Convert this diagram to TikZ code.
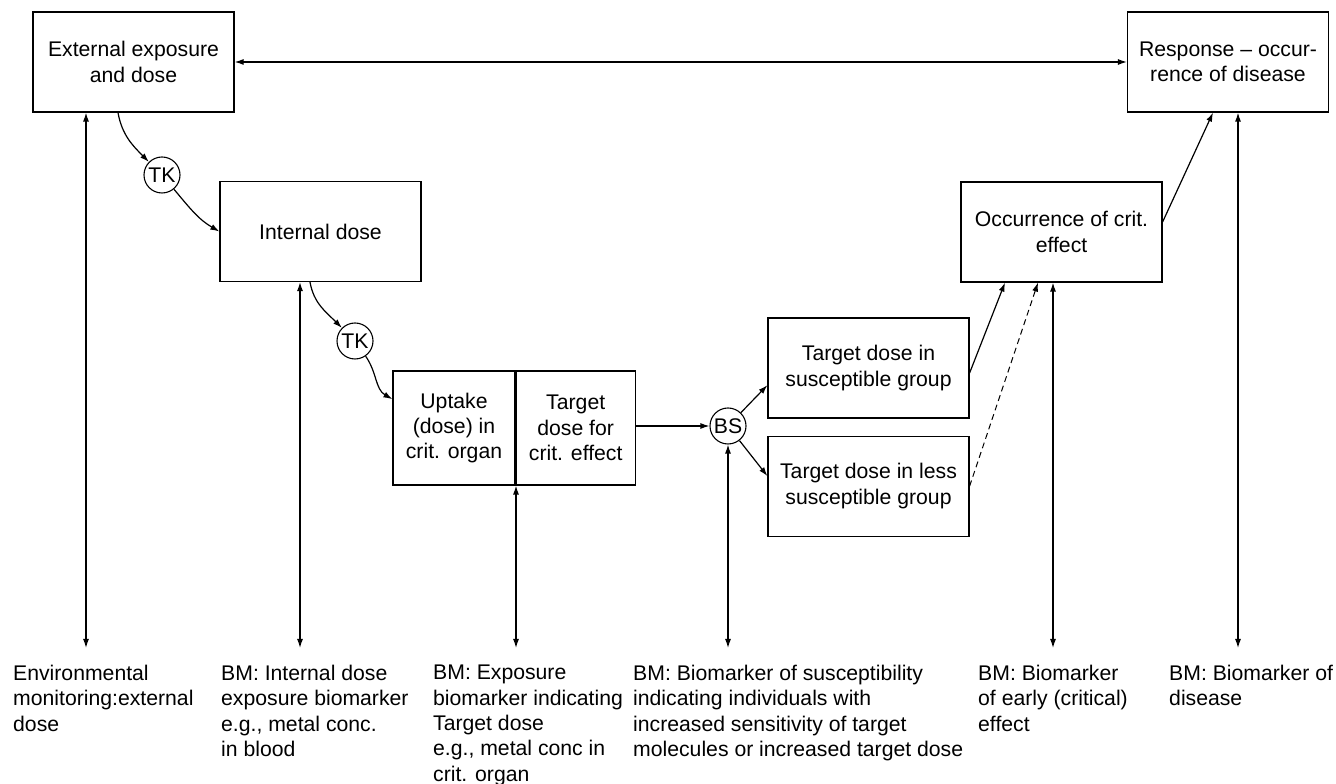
\documentclass[tikz,border=0pt]{standalone}
\usepackage{fontspec}
\setmainfont{Liberation Sans}
\usetikzlibrary{arrows.meta,positioning,calc}

\tikzset{
  box/.style={draw, line width=1.2pt, minimum width=201pt, minimum height=100pt, align=center, inner sep=2pt},
  half/.style={draw, line width=1.2pt, minimum height=114pt, align=center, inner sep=0pt},
  stage/.style={draw, circle, line width=1.1pt, minimum size=36pt, inner sep=0pt},
  link/.style={line width=1.2pt, -{Latex[length=9pt,width=6pt]}},
  both/.style={line width=1.2pt, {Latex[length=9pt,width=6pt]}-{Latex[length=9pt,width=6pt]}},
  note/.style={anchor=north west, align=left, inner sep=0pt},
}

\begin{document}
\begin{tikzpicture}[x=1pt, y=1pt, font=\fontsize{21.2}{25.4}\selectfont]
        \useasboundingbox (0,0) rectangle (1336,784);

        % Exposure side
        \node[box] (ext) at (133.5,722) {External exposure\\and dose};
        \node[stage] (tk1) at (162,609) {TK};
        \node[box] (int) at (320.5,552.5) {Internal dose};
        \node[stage] (tk2) at (355,443) {TK};
        \node[half, minimum width=122pt] (upt) at (454,356) {Uptake\\(dose) in\\crit. organ};
        \node[half, minimum width=119pt, right=0pt of upt] (tgt) {Target\\dose for\\crit. effect};

        % Susceptibility split
        \node[stage] (bs) at (728,358) {BS};
        \node[box] (sus) at (868.5,416) {Target dose in\\susceptible group};
        \node[box, below=17pt of sus] (less) {Target dose in less\\susceptible group};

        % Effect side
        \node[box] (occ) at (1061.5,552) {Occurrence of crit.\\effect};
        \node[box] (resp) at (1228,722) {Response -- occur-\\rence of disease};

        % Main chain
        \draw[both] (ext.east) -- (resp.west);
        \draw[link] ([xshift=-15.5pt]ext.south) to[out=-80, in=135] (tk1);
        \draw[link] (tk1) to[out=-50, in=150] (int.west);
        \draw[link] ([xshift=-10.5pt]int.south) to[out=-80, in=135] (tk2);
        \draw[link] (tk2) to[out=-55, in=150] ($(upt.north west)!0.25!(upt.south west)$);
        \draw[link] (tgt.east |- bs) -- (bs);
        \draw[link] (bs) -- ($(sus.south west)!0.33!(sus.north west)$);
        \draw[link] (bs) -- ($(less.north west)!0.4!(less.south west)$);
        \draw[link] ([yshift=-5pt]sus.east) -- ([xshift=-56.5pt]occ.south);
        \draw[link, dash pattern=on 6pt off 4pt, line width=1pt] (less.east) -- ([xshift=-23.5pt]occ.south);
        \draw[link] ([yshift=10pt]occ.east) -- ([xshift=-15pt]resp.south);

        % Biomarker ends
        \coordinate (m1) at (86,136);
        \coordinate (m2) at (300,136);
        \coordinate (m3) at (516,136);
        \coordinate (m4) at (728,136);
        \coordinate (m5) at (1053,136);
        \coordinate (m6) at (1238,136);

        \draw[both] (ext.south -| m1) -- (m1);
        \draw[both] (int.south -| m2) -- (m2);
        \draw[both] (upt.south -| m3) -- (m3);
        \draw[both] (bs) -- (m4);
        \draw[both] (occ.south -| m5) -- (m5);
        \draw[both] (resp.south -| m6) -- (m6);

        % Biomarker texts
        \node[note] (t1) at (13,119) {Environmental\\monitoring:external\\dose};
        \node[note] (t2) at (221,119) {BM: Internal dose\\exposure biomarker\\e.g., metal conc.\\in blood};
        \node[note] (t3) at (433,119) {BM: Exposure\\biomarker indicating\\Target dose\\e.g., metal conc in\\crit. organ};
        \node[note] (t4) at (633,119) {BM: Biomarker of susceptibility\\indicating individuals with\\increased sensitivity of target\\molecules or increased target dose};
        \node[note] (t5) at (978,119) {BM: Biomarker\\of early (critical)\\effect};
        \node[note] (t6) at (1169,119) {BM: Biomarker of\\disease};
      \end{tikzpicture}
\end{document}
